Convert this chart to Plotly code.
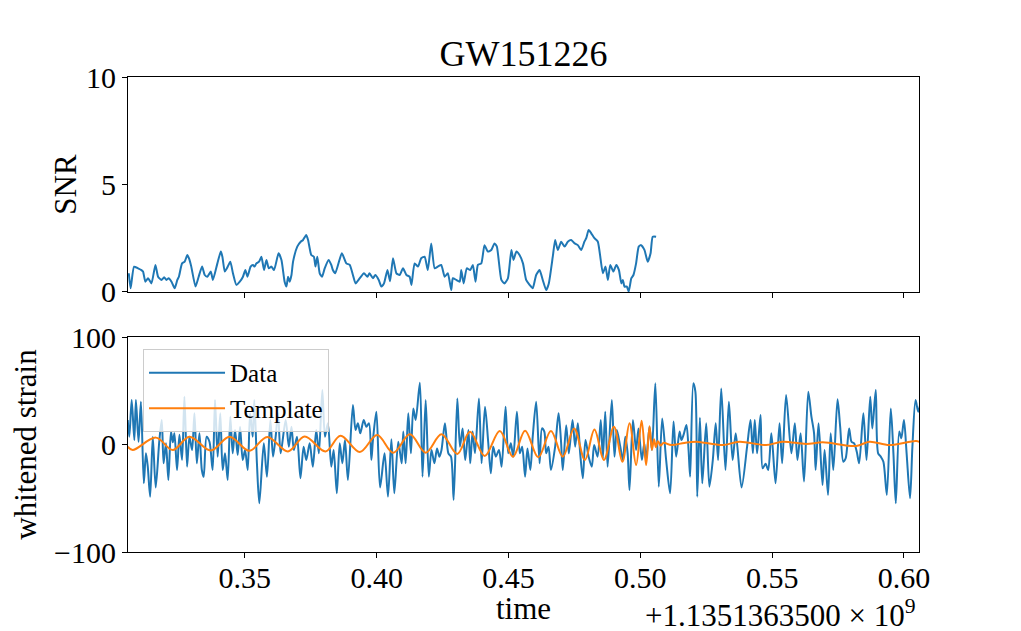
import plotly.graph_objects as go

# ---------------- data (time offsets in s, relative to 1.1351363500e9) ----------------
snr_time = [0.3060, 0.3067, 0.3080, 0.3095, 0.3108, 0.3114, 0.3123, 0.3133, 0.3146, 0.3161,
            0.3171, 0.3184, 0.3194, 0.3203, 0.3211, 0.3222, 0.3234, 0.3244, 0.3250, 0.3262,
            0.3272, 0.3282, 0.3288, 0.3297, 0.3313, 0.3325, 0.3338, 0.3348, 0.3358, 0.3371,
            0.3379, 0.3396, 0.3409, 0.3415, 0.3424, 0.3432, 0.3445, 0.3455, 0.3468, 0.3481,
            0.3493, 0.3502, 0.3510, 0.3522, 0.3531, 0.3537, 0.3544, 0.3554, 0.3563, 0.3573,
            0.3582, 0.3591, 0.3601, 0.3611, 0.3628, 0.3639, 0.3651, 0.3658, 0.3664, 0.3670,
            0.3677, 0.3683, 0.3699, 0.3712, 0.3721, 0.3733, 0.3740, 0.3752, 0.3762, 0.3768,
            0.3775, 0.3784, 0.3793, 0.3803, 0.3818, 0.3828, 0.3834, 0.3843, 0.3868, 0.3885,
            0.3898, 0.3910, 0.3920, 0.3936, 0.3952, 0.3965, 0.3973, 0.3986, 0.3995, 0.4008,
            0.4018, 0.4028, 0.4041, 0.4051, 0.4062, 0.4075, 0.4087, 0.4100, 0.4113, 0.4125,
            0.4132, 0.4144, 0.4157, 0.4169, 0.4182, 0.4194, 0.4207, 0.4220, 0.4232, 0.4245,
            0.4258, 0.4270, 0.4283, 0.4289, 0.4302, 0.4315, 0.4321, 0.4330, 0.4342, 0.4355,
            0.4365, 0.4375, 0.4384, 0.4397, 0.4409, 0.4422, 0.4435, 0.4447, 0.4456, 0.4473,
            0.4485, 0.4498, 0.4511, 0.4519, 0.4530, 0.4542, 0.4555, 0.4567, 0.4580, 0.4592,
            0.4605, 0.4618, 0.4630, 0.4643, 0.4653, 0.4668, 0.4677, 0.4687, 0.4700, 0.4713,
            0.4725, 0.4738, 0.4751, 0.4763, 0.4776, 0.4788, 0.4795, 0.4804, 0.4814, 0.4826,
            0.4839, 0.4858, 0.4868, 0.4877, 0.4886, 0.4898, 0.4909, 0.4919, 0.4928, 0.4934,
            0.4940, 0.4949, 0.4956, 0.4966, 0.4974, 0.4984, 0.4994, 0.5003, 0.5016, 0.5028,
            0.5039, 0.5047, 0.5060]
snr_value = [0.87, 0.17, 1.18, 1.10, 1.02, 0.95, 0.48, 0.64, 0.40, 1.26,
             0.71, 0.56, 0.68, 0.56, 0.64, 0.48, 0.17, 0.56, 0.71, 1.33,
             1.41, 1.72, 1.57, 1.18, 0.25, 0.71, 1.18, 0.79, 0.71, 0.95,
             0.56, 1.33, 1.88, 1.64, 0.95, 1.10, 1.41, 0.87, 0.33, 0.48,
             0.71, 1.02, 0.71, 1.18, 1.26, 1.18, 1.33, 1.41, 1.64, 1.02,
             1.49, 1.10, 1.18, 1.02, 1.80, 1.49, 0.48, 0.25, 0.71, 0.48,
             0.79, 1.41, 2.11, 2.34, 2.42, 2.65, 2.42, 1.72, 1.64, 1.18,
             1.64, 0.87, 0.71, 1.10, 1.49, 1.26, 1.02, 0.87, 1.80, 1.33,
             1.26, 0.79, 0.40, 0.64, 0.87, 0.71, 0.87, 0.64, 0.79, 0.56,
             0.25, 0.40, 1.02, 0.50, 1.57, 0.87, 0.79, 1.10, 0.79, 0.71,
             0.33, 1.33, 1.18, 1.57, 1.64, 1.02, 2.26, 1.10, 1.18, 1.26,
             0.71, 0.87, 0.09, 0.64, 0.56, 0.48, 1.02, 0.40, 1.10, 1.02,
             1.26, 0.48, 1.26, 1.33, 2.18, 1.88, 1.95, 2.26, 2.11, 0.56,
             0.40, 0.64, 1.95, 1.49, 1.88, 1.72, 1.33, 0.56, 0.33, 0.17,
             0.79, 1.02, 0.56, 0.09, 0.40, 1.64, 2.42, 1.95, 2.34, 2.11,
             2.34, 2.42, 2.26, 2.18, 1.95, 2.34, 2.50, 2.88, 2.73, 2.50,
             2.34, 0.87, 1.18, 0.56, 1.26, 0.95, 1.26, 1.02, 0.40, 0.56,
             0.25, 0.25, 0.02, 0.64, 0.79, 1.33, 2.11, 2.18, 1.95, 1.41,
             1.80, 2.57, 2.57]

strain_time = [0.3056, 0.3062, 0.3071, 0.3081, 0.3087, 0.3097, 0.3106, 0.3117, 0.3125, 0.3132,
               0.3141, 0.3151, 0.3162, 0.3176, 0.3185, 0.3192, 0.3201, 0.3210, 0.3220, 0.3227,
               0.3233, 0.3243, 0.3252, 0.3262, 0.3271, 0.3281, 0.3290, 0.3300, 0.3309, 0.3318,
               0.3328, 0.3337, 0.3344, 0.3355, 0.3366, 0.3378, 0.3387, 0.3397, 0.3407, 0.3416,
               0.3425, 0.3435, 0.3445, 0.3454, 0.3463, 0.3473, 0.3482, 0.3492, 0.3501, 0.3511,
               0.3520, 0.3530, 0.3536, 0.3546, 0.3555, 0.3572, 0.3584, 0.3597, 0.3607, 0.3617,
               0.3626, 0.3636, 0.3655, 0.3667, 0.3677, 0.3686, 0.3698, 0.3711, 0.3723, 0.3733,
               0.3746, 0.3758, 0.3771, 0.3781, 0.3794, 0.3804, 0.3815, 0.3828, 0.3837, 0.3849,
               0.3860, 0.3870, 0.3880, 0.3891, 0.3910, 0.3920, 0.3929, 0.3938, 0.3951, 0.3961,
               0.3971, 0.3980, 0.3986, 0.3999, 0.4013, 0.4030, 0.4043, 0.4056, 0.4067, 0.4082,
               0.4095, 0.4101, 0.4110, 0.4120, 0.4130, 0.4139, 0.4148, 0.4164, 0.4174, 0.4186,
               0.4198, 0.4208, 0.4219, 0.4229, 0.4238, 0.4246, 0.4259, 0.4272, 0.4282, 0.4292,
               0.4306, 0.4316, 0.4326, 0.4336, 0.4348, 0.4355, 0.4364, 0.4373, 0.4388, 0.4398,
               0.4411, 0.4423, 0.4433, 0.4442, 0.4452, 0.4464, 0.4474, 0.4489, 0.4499, 0.4509,
               0.4518, 0.4532, 0.4543, 0.4552, 0.4563, 0.4572, 0.4583, 0.4592, 0.4605, 0.4618,
               0.4627, 0.4636, 0.4643, 0.4652, 0.4661, 0.4677, 0.4690, 0.4699, 0.4706, 0.4719,
               0.4729, 0.4743, 0.4753, 0.4763, 0.4772, 0.4782, 0.4792, 0.4804, 0.4816, 0.4825,
               0.4838, 0.4850, 0.4858, 0.4867, 0.4876, 0.4892, 0.4902, 0.4911, 0.4924, 0.4934,
               0.4943, 0.4952, 0.4959, 0.4972, 0.4984, 0.4993, 0.5006, 0.5015, 0.5022, 0.5035,
               0.5044, 0.5057, 0.5070, 0.5083, 0.5098, 0.5113, 0.5126, 0.5136, 0.5149, 0.5156,
               0.5164, 0.5175, 0.5183, 0.5189, 0.5201, 0.5209, 0.5216, 0.5226, 0.5235, 0.5250,
               0.5262, 0.5275, 0.5286, 0.5295, 0.5307, 0.5323, 0.5336, 0.5350, 0.5362, 0.5384,
               0.5405, 0.5418, 0.5427, 0.5434, 0.5443, 0.5456, 0.5464, 0.5475, 0.5485, 0.5497,
               0.5513, 0.5528, 0.5538, 0.5553, 0.5573, 0.5586, 0.5596, 0.5608, 0.5621, 0.5637,
               0.5649, 0.5659, 0.5665, 0.5676, 0.5691, 0.5699, 0.5712, 0.5722, 0.5732, 0.5748,
               0.5758, 0.5770, 0.5779, 0.5792, 0.5801, 0.5811, 0.5821, 0.5830, 0.5846, 0.5858,
               0.5872, 0.5880, 0.5893, 0.5902, 0.5912, 0.5922, 0.5935, 0.5950, 0.5960, 0.5969,
               0.5982, 0.5990, 0.6000, 0.6010, 0.6023, 0.6032, 0.6044, 0.6054, 0.6062]
strain_value = [22.8, 7.3, 41.4, 4.2, 41.4, 2.6, 39.8, -36.1, -8.2, -20.6,
                -48.5, 7.3, -40.0, 4.2, 22.8, -17.5, 1.1, -33.0, 12.0, 2.0,
                10.4, -23.7, 9.0, -14.4, 44.5, -20.6, 7.3, -5.1, 29.0, -17.5,
                10.4, -23.7, -30.0, 7.3, 2.6, -23.7, 41.4, -11.3, 29.0, -23.7,
                -8.2, -33.0, 25.9, -8.2, 13.5, -9.8, 16.6, -14.4, -5.1, -23.7,
                29.0, 7.3, 41.4, -17.5, -54.7, 1.1, -29.9, 22.8, -11.3, 7.3,
                29.0, -8.2, 22.8, -2.0, 16.6, -5.1, 7.3, -31.4, -2.0, -14.4,
                1.1, -20.6, 13.5, -8.2, 50.7, 7.3, 19.7, -20.6, -5.1, -45.4,
                1.1, -17.5, 4.2, -33.0, 36.8, 13.5, 19.7, 10.4, 22.8, 16.6,
                19.7, -14.4, 4.2, 30.5, -40.0, -8.2, -48.5, 5.0, -45.4, 2.6,
                -17.5, 12.0, -17.5, 29.0, -8.2, 33.6, 22.8, 57.5, -29.9, 41.4,
                -29.9, -5.1, -17.5, -3.6, -11.3, -5.1, 19.7, -8.2, -11.3, -51.6,
                42.9, -2.0, 15.0, -14.4, 13.5, -17.5, 12.0, -8.2, 42.9, -17.5,
                35.2, 2.6, -26.8, -2.0, -11.3, -5.1, -20.6, 35.2, -8.2, 1.1,
                -11.3, 30.5, -8.2, -2.0, -29.9, -3.6, -23.7, 7.3, 39.8, -17.5,
                15.0, 12.0, -8.2, -2.0, -23.7, -2.0, 29.0, 4.2, -23.7, 18.0,
                -8.2, 22.8, -2.0, 19.7, -8.2, -31.4, 4.2, -11.3, -20.6, -0.5,
                -11.3, 22.8, -12.8, 30.5, -20.6, 41.4, -11.3, 13.5, -2.0, -14.4,
                7.3, -8.2, -42.3, 22.8, -5.1, 15.0, -14.4, 1.1, -14.4, 16.6,
                -5.1, 56.9, -39.2, 24.3, -14.4, -45.4, 21.3, -11.3, 12.0, 4.2,
                9.0, 18.2, -5.1, -29.9, 56.9, 49.0, -48.5, 25.0, -36.1, 19.7,
                -39.2, -14.4, 19.7, -14.4, 52.2, -23.7, 39.8, -14.4, 10.4, -40.0,
                -2.0, 22.8, -8.2, 22.8, -8.2, 27.4, -22.1, -18.0, -23.7, 10.4,
                -36.1, 19.7, -17.5, 46.0, -8.2, 19.7, -14.4, 10.4, -34.5, 49.2,
                25.9, 10.4, -23.7, 19.7, -37.6, -5.1, -46.9, 10.4, -23.7, 42.0,
                16.6, -16.0, -12.8, 15.0, 2.6, 1.1, -6.7, -17.5, 29.0, -14.4,
                44.5, 15.0, 50.7, -8.2, -11.3, -16.0, -46.9, 33.6, -8.2, -54.7,
                12.0, 5.8, 22.8, -8.2, -50.0, -2.0, 41.4, 30.5, 38.0]

template_time = [0.3056, 0.3075, 0.3163, 0.3227, 0.3290, 0.3371, 0.3442, 0.3517, 0.3585, 0.3664,
                 0.3727, 0.3806, 0.3863, 0.3936, 0.4002, 0.4063, 0.4126, 0.4186, 0.4246, 0.4306,
                 0.4354, 0.4410, 0.4467, 0.4517, 0.4563, 0.4613, 0.4661, 0.4706, 0.4749, 0.4790,
                 0.4826, 0.4862, 0.4900, 0.4932, 0.4959, 0.4984, 0.5005, 0.5022, 0.5035, 0.5044,
                 0.5052, 0.5059, 0.5067, 0.5077, 0.5088, 0.5118, 0.5167, 0.5212, 0.5313, 0.5376,
                 0.5477, 0.5540, 0.5629, 0.5692, 0.5819, 0.5869, 0.5945, 0.6046, 0.6062]
template_value = [-2.0, -5.1, 6.4, -5.1, 7.3, -5.6, 7.3, -5.9, 7.0, -6.4,
                  7.5, -6.4, 8.2, -7.0, 8.8, -7.6, 9.5, -7.6, 9.5, -8.8,
                  11.9, -10.7, 12.6, -11.3, 12.9, -11.9, 12.6, -11.3, 15.0, -14.4,
                  14.0, -14.4, 16.6, -16.0, 19.7, -19.1, 22.2, -19.1, 17.0, -5.0,
                  5.0, -2.5, 3.0, -1.0, 1.5, -0.5, 1.5, 2.6, -0.5, 2.6,
                  -0.5, 2.6, 0.5, 2.0, -1.4, 2.6, -0.5, 3.3, 2.0]

x_range = [0.3057, 0.6057]
x_ticks = [0.35, 0.40, 0.45, 0.50, 0.55, 0.60]
x_ticklabels = ["0.35", "0.40", "0.45", "0.50", "0.55", "0.60"]
snr_ticks = [0, 5, 10]
snr_ticklabels = ["0", "5", "10"]
strain_ticks = [-100, 0, 100]
strain_ticklabels = ["\u2212100", "0", "100"]

BLUE = "#1f77b4"
ORANGE = "#ff7f0e"
FONT = "Liberation Serif, DejaVu Serif, serif"

fig = go.Figure()
fig.add_trace(go.Scatter(x=snr_time, y=snr_value, mode="lines", showlegend=False,
                         line=dict(color=BLUE, width=2, shape="spline", smoothing=0.5),
                         xaxis="x", yaxis="y"))
fig.add_trace(go.Scatter(x=strain_time, y=strain_value, mode="lines", name="Data",
                         legendgroup="a",
                         line=dict(color=BLUE, width=2, shape="spline", smoothing=0.8),
                         xaxis="x2", yaxis="y2"))
fig.add_trace(go.Scatter(x=template_time, y=template_value, mode="lines", name="Template",
                         legendgroup="b",
                         line=dict(color=ORANGE, width=2, shape="spline", smoothing=1.0),
                         xaxis="x2", yaxis="y2"))

axis_common = dict(showgrid=False, zeroline=False, showline=True, mirror=True,
                   linecolor="black", linewidth=1, ticks="outside", ticklen=5,
                   tickwidth=1, tickcolor="black", automargin=False,
                   tickfont=dict(family=FONT, size=30, color="black"))

# the page body adds an 8 px offset, so margins are shifted by 8 px to compensate
fig.update_layout(
    width=1021, height=631,
    paper_bgcolor="white", plot_bgcolor="white",
    margin=dict(l=120, r=110, t=69, b=87, autoexpand=False),
    font=dict(family=FONT, color="black"),
    title=dict(text="GW151226", x=0.5, xref="paper", xanchor="center",
               y=1 - 45 / 631, yref="container", yanchor="middle",
               font=dict(family=FONT, size=36, color="black")),
    xaxis=dict(domain=[0, 1], anchor="y", range=x_range, tickvals=x_ticks,
               showticklabels=False, **axis_common),
    yaxis=dict(domain=[0.5474, 1], anchor="x", range=[0, 10], tickvals=snr_ticks,
               ticktext=snr_ticklabels,
               title=dict(text="SNR", font=dict(family=FONT, size=31, color="black"),
                          standoff=0),
               **axis_common),
    xaxis2=dict(domain=[0, 1], anchor="y2", range=x_range, tickvals=x_ticks,
                ticktext=x_ticklabels, ticklabelstandoff=-6, **axis_common),
    yaxis2=dict(domain=[0, 0.4526], anchor="x2", range=[-100, 100], tickvals=strain_ticks,
                ticktext=strain_ticklabels,
                title=dict(text="whitened strain", font=dict(family=FONT, size=31, color="black"),
                           standoff=10),
                **axis_common),
    legend=dict(x=0.019, y=0.4274, xref="paper", yref="paper", xanchor="left", yanchor="top",
                bgcolor="rgba(255,255,255,0.8)", bordercolor="#cccccc", borderwidth=1,
                font=dict(family=FONT, size=25, color="black"),
                itemwidth=76, tracegroupgap=0, traceorder="grouped"),
    annotations=[
        dict(text="time", xref="paper", yref="paper", x=0.5, y=-0.118,
             xanchor="center", yanchor="middle", showarrow=False,
             font=dict(family=FONT, size=31, color="black")),
        dict(text="+1.1351363500 \u00d7 10<sup>9</sup>", xref="paper", yref="paper",
             x=0.9987, y=-0.13, xanchor="right", yanchor="middle", showarrow=False,
             font=dict(family=FONT, size=31, color="black")),
    ],
)

fig.write_html("out.html")
